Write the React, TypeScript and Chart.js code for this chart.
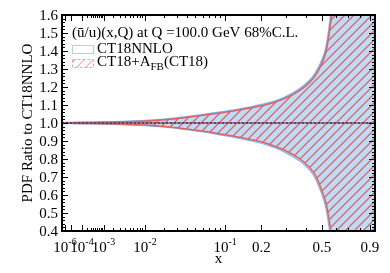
import React, { useEffect, useRef } from 'react';
import { Chart, Scale, registerables } from 'chart.js';

const POWER = 0.285;
const X_MIN = 1e-7;
const X_MAX = 0.954;
const Y_MIN = 0.4;
const Y_MAX = 1.6;

const xGrid = [1e-7, 1e-6, 1e-5, 1e-4, 1e-3, 3e-3, 0.01, 0.02, 0.035, 0.0565, 0.08, 0.118, 0.16, 0.22, 0.29, 0.369, 0.42, 0.456, 0.5, 0.53, 0.557, 0.6, 0.65, 0.75, 0.954];
const ct18Upper = [1.001, 1.001, 1.002, 1.003, 1.004, 1.007, 1.012, 1.019, 1.03, 1.043, 1.055, 1.07, 1.086, 1.108, 1.14, 1.19, 1.232, 1.272, 1.345, 1.42, 1.56, 1.85, 2.2, 2.9, 4.0];
const ct18Lower = [0.999, 0.999, 0.998, 0.997, 0.996, 0.993, 0.988, 0.98, 0.968, 0.955, 0.942, 0.924, 0.906, 0.88, 0.843, 0.79, 0.745, 0.7, 0.61, 0.53, 0.4, 0.15, -0.2, -0.9, -2.0];
const afbUpper = [1.001, 1.001, 1.002, 1.003, 1.004, 1.006, 1.011, 1.018, 1.028, 1.041, 1.052, 1.067, 1.082, 1.103, 1.134, 1.181, 1.222, 1.26, 1.33, 1.4, 1.53, 1.8, 2.15, 2.8, 3.9];
const afbLower = [0.999, 0.999, 0.998, 0.997, 0.996, 0.994, 0.989, 0.981, 0.97, 0.957, 0.945, 0.928, 0.91, 0.886, 0.85, 0.8, 0.756, 0.713, 0.625, 0.55, 0.43, 0.2, -0.15, -0.8, -1.9];
const centralRatio = [1, 1, 1, 1, 1, 1, 1, 1, 1, 1, 1, 1, 1, 1, 1, 1, 1, 1, 1, 1, 1, 1, 1, 1, 1];

const xMajorTicks = [1e-6, 1e-5, 1e-4, 1e-3, 1e-2, 1e-1, 0.2, 0.5, 0.9];
const xMinorTicks = [
  2e-4, 3e-4, 4e-4, 5e-4, 6e-4, 7e-4, 8e-4, 9e-4,
  2e-3, 3e-3, 4e-3, 5e-3, 6e-3, 7e-3, 8e-3, 9e-3,
  2e-2, 3e-2, 4e-2, 5e-2, 6e-2, 7e-2, 8e-2, 9e-2,
  0.3, 0.4, 0.6, 0.7, 0.8,
];
const xLabelValues = [1e-6, 1e-4, 1e-3, 1e-2, 1e-1, 0.2, 0.5, 0.9];
const xLabelBase = ['10', '10', '10', '10', '10', '0.2', '0.5', '0.9'];
const xLabelExp = ['-6', '-4', '-3', '-2', '-1', '', '', ''];

const yMajorTicks = [0.4, 0.5, 0.6, 0.7, 0.8, 0.9, 1.0, 1.1, 1.2, 1.3, 1.4, 1.5, 1.6];
const yLabels = ['0.4', '0.5', '0.6', '0.7', '0.8', '0.9', '1.0', '1.1', '1.2', '1.3', '1.4', '1.5', '1.6'];
const yMinorStep = 0.02;

const headerText = '(ū/u)(x,Q) at Q =100.0 GeV 68%C.L.';
const legend1 = 'CT18NNLO';
const legend2Main = 'CT18+A';
const legend2Sub = 'FB';
const legend2Tail = '(CT18)';
const yTitle = 'PDF Ratio to CT18NNLO';
const xTitle = 'x';

const FONT = '"Liberation Serif", "DejaVu Serif", serif';

class PowerScale extends Scale {
  static id = 'power';
  static defaults = {};
  _t0: number = 0;
  _t1: number = 1;
  determineDataLimits() {
    this.min = (this as any).options.min;
    this.max = (this as any).options.max;
  }
  buildTicks() {
    return xMajorTicks.map((v) => ({ value: v }));
  }
  getLabelForValue(v: number) {
    return String(v);
  }
  configure() {
    super.configure();
    this._t0 = Math.pow(this.min, POWER);
    this._t1 = Math.pow(this.max, POWER);
  }
  getPixelForValue(v: number) {
    return this.getPixelForDecimal((Math.pow(Math.max(v, 0), POWER) - this._t0) / (this._t1 - this._t0));
  }
  getValueForPixel(p: number) {
    const d = this.getDecimalForPixel(p);
    return Math.pow(this._t0 + d * (this._t1 - this._t0), 1 / POWER);
  }
}

Chart.register(...registerables, PowerScale as any);

function makeHatch(color: string, lw: number) {
  const c = document.createElement('canvas');
  const s = 9;
  c.width = s;
  c.height = s;
  const g = c.getContext('2d')!;
  g.strokeStyle = color;
  g.lineWidth = lw;
  g.beginPath();
  g.moveTo(-1, s + 1);
  g.lineTo(s + 1, -1);
  g.moveTo(-1, 1);
  g.lineTo(1, -1);
  g.moveTo(s - 1, s + 1);
  g.lineTo(s + 1, s - 1);
  g.stroke();
  return g.createPattern(c, 'repeat')!;
}

const toPts = (ys: number[]) => xGrid.map((x, i) => ({ x, y: ys[i] }));

export default function App() {
  const ref = useRef<HTMLCanvasElement>(null);
  useEffect(() => {
    document.body.style.margin = '0';
    const canvas = ref.current!;
    const hatch = makeHatch('#e06464', 1.3);
    const hatchLegend = makeHatch('#f2a8a8', 1.1);

    const decor = {
      id: 'decor',
      afterDraw(chart: any) {
        const ctx = chart.ctx as CanvasRenderingContext2D;
        const xs = chart.scales.x;
        const ys = chart.scales.y;
        const { left, right, top, bottom } = chart.chartArea;
        ctx.save();
        ctx.strokeStyle = '#000';
        ctx.lineWidth = 1;
        const vt = (v: number, len: number) => {
          const px = Math.round(xs.getPixelForValue(v)) + 0.5;
          ctx.beginPath();
          ctx.moveTo(px, bottom);
          ctx.lineTo(px, bottom - len);
          ctx.moveTo(px, top);
          ctx.lineTo(px, top + len);
          ctx.stroke();
        };
        xMajorTicks.forEach((v) => vt(v, 6));
        xMinorTicks.forEach((v) => vt(v, 3));
        const ht = (v: number, len: number) => {
          const py = Math.round(ys.getPixelForValue(v)) + 0.5;
          ctx.beginPath();
          ctx.moveTo(left, py);
          ctx.lineTo(left + len, py);
          ctx.moveTo(right, py);
          ctx.lineTo(right - len, py);
          ctx.stroke();
        };
        yMajorTicks.forEach((v) => ht(v, 6));
        for (let v = Y_MIN; v < Y_MAX + 1e-9; v += yMinorStep) ht(v, 3);
        ctx.lineWidth = 2;
        ctx.strokeRect(left, top, right - left, bottom - top);
        ctx.fillStyle = '#000';
        ctx.font = '15px ' + FONT;
        ctx.textAlign = 'right';
        ctx.textBaseline = 'middle';
        yMajorTicks.forEach((v, i) => {
          ctx.fillText(yLabels[i], left - 4, ys.getPixelForValue(v) + 1);
        });
        ctx.textBaseline = 'alphabetic';
        ctx.textAlign = 'left';
        xLabelValues.forEach((v, i) => {
          const px = xs.getPixelForValue(v);
          ctx.font = '15px ' + FONT;
          const wb = ctx.measureText(xLabelBase[i]).width;
          ctx.font = '10px ' + FONT;
          const we = xLabelExp[i] ? ctx.measureText(xLabelExp[i]).width : 0;
          const x0 = px - (wb + we) / 2;
          ctx.font = '15px ' + FONT;
          ctx.fillText(xLabelBase[i], x0, 252);
          if (xLabelExp[i]) {
            ctx.font = '10px ' + FONT;
            ctx.fillText(xLabelExp[i], x0 + wb, 245);
          }
        });
        ctx.font = '15px ' + FONT;
        ctx.textAlign = 'center';
        ctx.fillText(xTitle, (left + right) / 2, 263);
        ctx.save();
        ctx.translate(28, (top + bottom) / 2);
        ctx.rotate(-Math.PI / 2);
        ctx.textBaseline = 'middle';
        ctx.fillText(yTitle, 0, 0);
        ctx.restore();
        ctx.textAlign = 'left';
        ctx.textBaseline = 'alphabetic';
        ctx.font = '15px ' + FONT;
        ctx.fillText(headerText, 72, 37);
        ctx.lineWidth = 1;
        ctx.strokeStyle = '#a9d2f4';
        ctx.fillStyle = '#ffffff';
        ctx.fillRect(72.5, 45.5, 21, 8);
        ctx.strokeRect(72.5, 45.5, 21, 8);
        ctx.fillStyle = '#000';
        ctx.fillText(legend1, 97, 53);
        ctx.fillStyle = hatchLegend;
        ctx.fillRect(72.5, 59.5, 21, 8);
        ctx.setLineDash([3, 2]);
        ctx.strokeStyle = '#f2a0a0';
        ctx.strokeRect(72.5, 59.5, 21, 8);
        ctx.setLineDash([]);
        ctx.fillStyle = '#000';
        ctx.fillText(legend2Main, 97, 66);
        let w = ctx.measureText(legend2Main).width;
        ctx.font = '11px ' + FONT;
        ctx.fillText(legend2Sub, 97 + w, 70);
        w += ctx.measureText(legend2Sub).width;
        ctx.font = '15px ' + FONT;
        ctx.fillText(legend2Tail, 97 + w, 66);
        ctx.restore();
      },
    };

    const common = { pointRadius: 0, cubicInterpolationMode: 'monotone' as const };
    const chart = new Chart(canvas, {
      type: 'line',
      data: {
        datasets: [
          { ...common, data: toPts(centralRatio), borderColor: '#a03030', borderWidth: 2, borderDash: [2, 2], fill: false, order: 0 },
          { ...common, data: toPts(centralRatio), borderColor: '#4a78b0', borderWidth: 1.5, fill: false, order: 1 },
          { ...common, data: toPts(afbUpper), borderColor: '#e06464', borderWidth: 1.5, backgroundColor: hatch, fill: '+1', order: 2 },
          { ...common, data: toPts(afbLower), borderColor: '#e06464', borderWidth: 1.5, fill: false, order: 3 },
          { ...common, data: toPts(ct18Upper), borderColor: '#72b4f2', borderWidth: 2, backgroundColor: '#bddcf6', fill: '+1', order: 4 },
          { ...common, data: toPts(ct18Lower), borderColor: '#72b4f2', borderWidth: 2, fill: false, order: 5 },
        ] as any,
      },
      options: {
        animation: false,
        responsive: false,
        devicePixelRatio: 1,
        events: [],
        layout: { padding: { left: 62, right: 15, top: 15, bottom: 42 } },
        plugins: { legend: { display: false }, tooltip: { enabled: false } },
        scales: {
          x: { type: 'power' as any, min: X_MIN, max: X_MAX, display: false },
          y: { type: 'linear', min: Y_MIN, max: Y_MAX, display: false },
        },
      } as any,
      plugins: [decor],
    });
    return () => chart.destroy();
  }, []);
  return <canvas ref={ref} width={390} height={273} style={{ display: 'block' }} />;
}
